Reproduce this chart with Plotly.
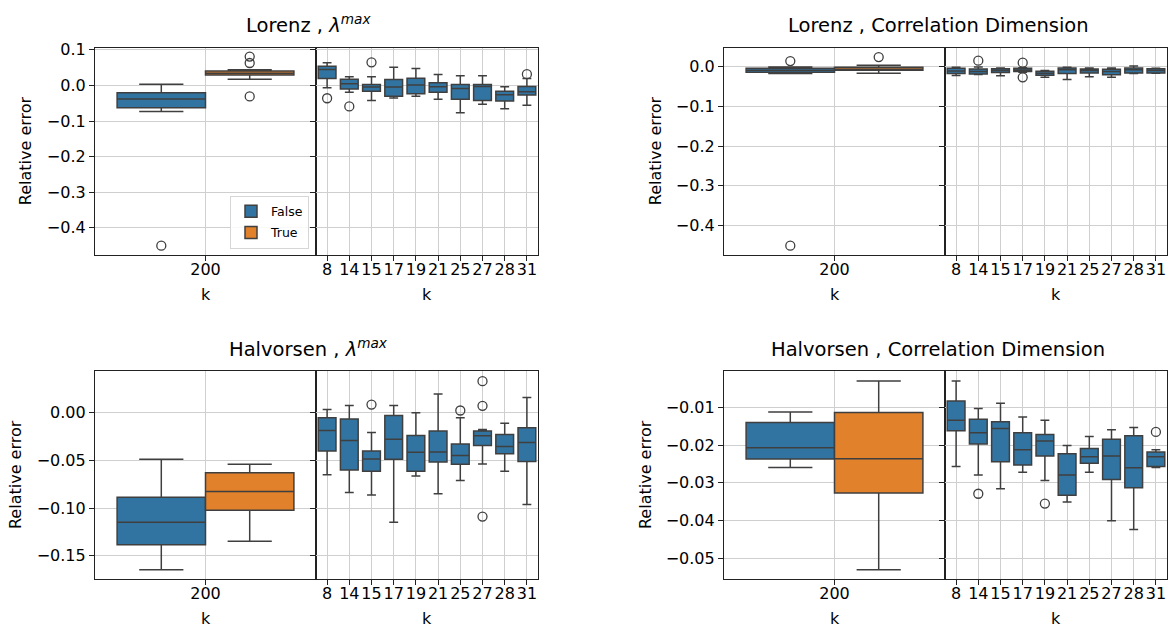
import plotly.graph_objects as go

# ---------------- data ----------------
K_BIG = ["200"]
HUES = ["False", "True"]
K_SMALL = ["8", "14", "15", "17", "19", "21", "25", "27", "28", "31"]

# stats order for k=200 boxes: [lower whisker, q1, median, q3, upper whisker]
# ---- Lorenz, lambda max
LZ_LAM_F200 = [-0.073, -0.063, -0.038, -0.0206, 0.003]
LZ_LAM_T200 = [0.017, 0.0295, 0.034, 0.0406, 0.044]
LZ_LAM_F200_OUT = [-0.450]
LZ_LAM_T200_OUT = [0.081, 0.063, -0.031]
LZ_LAM_LO = [-0.0065, -0.0194, -0.0426, -0.0352, -0.0306, -0.0389, -0.0769, -0.0528, -0.0657, -0.0556]
LZ_LAM_Q1 = [0.0194, -0.0102, -0.0167, -0.0306, -0.0231, -0.0194, -0.0389, -0.0426, -0.0435, -0.0269]
LZ_LAM_MED = [0.0444, 0.0046, -0.0046, -0.0046, 0.0009, -0.0037, -0.0083, -0.0028, -0.0259, -0.0176]
LZ_LAM_Q3 = [0.0537, 0.0176, 0.0028, 0.0167, 0.0204, 0.0074, 0.0028, 0.0028, -0.0167, -0.0028]
LZ_LAM_HI = [0.0639, 0.0241, 0.0241, 0.0509, 0.0472, 0.0306, 0.0269, 0.0269, -0.0037, 0.0194]
LZ_LAM_OUT_K = ["8", "14", "15", "31"]
LZ_LAM_OUT_V = [-0.036, -0.059, 0.065, 0.0315]

# ---- Lorenz, correlation dimension
LZ_CD_F200 = [-0.0174, -0.0141, -0.0091, -0.0041, -0.0008]
LZ_CD_T200 = [-0.0166, -0.0091, -0.0075, -0.0017, 0.0033]
LZ_CD_F200_OUT = [0.0141, -0.4506]
LZ_CD_T200_OUT = [0.0240]
LZ_CD_LO = [-0.0224, -0.0199, -0.0232, -0.0141, -0.0266, -0.0324, -0.0257, -0.0266, -0.0174, -0.0166]
LZ_CD_Q1 = [-0.0174, -0.0183, -0.0149, -0.0124, -0.0216, -0.0174, -0.0158, -0.0207, -0.0158, -0.0158]
LZ_CD_MED = [-0.0108, -0.0124, -0.0100, -0.0083, -0.0166, -0.0075, -0.0100, -0.0124, -0.0075, -0.0100]
LZ_CD_Q3 = [-0.0041, -0.0058, -0.0050, -0.0041, -0.0116, -0.0033, -0.0058, -0.0066, -0.0033, -0.0050]
LZ_CD_HI = [-0.0017, -0.0008, -0.0033, -0.0025, -0.0100, -0.0017, -0.0033, -0.0033, 0.0017, -0.0041]
LZ_CD_OUT_K = ["14", "17", "17"]
LZ_CD_OUT_V = [0.0150, 0.0100, -0.0270]

# ---- Halvorsen, lambda max
HV_LAM_F200 = [-0.1645, -0.1383, -0.1148, -0.0885, -0.0487]
HV_LAM_T200 = [-0.1348, -0.1023, -0.0826, -0.0629, -0.0539]
HV_LAM_F200_OUT = []
HV_LAM_T200_OUT = []
HV_LAM_LO = [-0.0650, -0.0837, -0.0861, -0.1148, -0.0664, -0.0850, -0.0709, -0.0536, -0.0612, -0.0961]
HV_LAM_Q1 = [-0.0401, -0.0601, -0.0612, -0.0487, -0.0612, -0.0515, -0.0539, -0.0342, -0.0429, -0.0512]
HV_LAM_MED = [-0.0187, -0.0290, -0.0484, -0.0277, -0.0415, -0.0411, -0.0449, -0.0242, -0.0353, -0.0311]
HV_LAM_Q3 = [-0.0052, -0.0066, -0.0401, -0.0028, -0.0239, -0.0190, -0.0328, -0.0190, -0.0228, -0.0156]
HV_LAM_HI = [0.0035, 0.0076, -0.0207, 0.0076, 0.0000, 0.0197, -0.0052, -0.0176, -0.0111, 0.0159]
HV_LAM_OUT_K = ["15", "25", "27", "27", "27"]
HV_LAM_OUT_V = [0.0086, 0.0024, 0.0332, 0.0073, -0.1089]

# ---- Halvorsen, correlation dimension
HV_CD_F200 = [-0.0259, -0.0237, -0.0207, -0.0140, -0.0112]
HV_CD_T200 = [-0.0531, -0.0327, -0.0236, -0.0113, -0.0030]
HV_CD_F200_OUT = []
HV_CD_T200_OUT = []
HV_CD_LO = [-0.0257, -0.0279, -0.0316, -0.0272, -0.0294, -0.0351, -0.0272, -0.0401, -0.0424, -0.0259]
HV_CD_Q1 = [-0.0162, -0.0197, -0.0244, -0.0253, -0.0229, -0.0333, -0.0248, -0.0291, -0.0313, -0.0257]
HV_CD_MED = [-0.0134, -0.0167, -0.0156, -0.0212, -0.0189, -0.0279, -0.0231, -0.0229, -0.0260, -0.0231]
HV_CD_Q3 = [-0.0083, -0.0131, -0.0138, -0.0167, -0.0172, -0.0223, -0.0209, -0.0184, -0.0175, -0.0218]
HV_CD_HI = [-0.0030, -0.0103, -0.0089, -0.0125, -0.0134, -0.0201, -0.0177, -0.0159, -0.0153, -0.0212]
HV_CD_OUT_K = ["14", "19", "31"]
HV_CD_OUT_V = [-0.0329, -0.0355, -0.0165]

TITLES = ["Lorenz , <i>λ</i><sup><i>max</i></sup>", "Lorenz , Correlation Dimension",
          "Halvorsen , <i>λ</i><sup><i>max</i></sup>", "Halvorsen , Correlation Dimension"]
Y_LABEL = "Relative error"
X_LABEL = "k"

# ---------------- styling ----------------
W, H = 1169, 630
FONT = "DejaVu Sans"
BLUE, ORANGE = "#3274a1", "#e1812c"
EDGE = "#3f3f3f"
GRID = "#cfcfcf"
SPINE = "#222222"

panels = [
    dict(f=LZ_LAM_F200, t=LZ_LAM_T200, fo=LZ_LAM_F200_OUT, to=LZ_LAM_T200_OUT,
         lo=LZ_LAM_LO, q1=LZ_LAM_Q1, med=LZ_LAM_MED, q3=LZ_LAM_Q3, hi=LZ_LAM_HI,
         ok=LZ_LAM_OUT_K, ov=LZ_LAM_OUT_V,
         yr=[-0.476, 0.1064], tv=[0.1, 0.0, -0.1, -0.2, -0.3, -0.4], fmt=".1f",
         col=0, row=0, ylx=25),
    dict(f=LZ_CD_F200, t=LZ_CD_T200, fo=LZ_CD_F200_OUT, to=LZ_CD_T200_OUT,
         lo=LZ_CD_LO, q1=LZ_CD_Q1, med=LZ_CD_MED, q3=LZ_CD_Q3, hi=LZ_CD_HI,
         ok=LZ_CD_OUT_K, ov=LZ_CD_OUT_V,
         yr=[-0.4739, 0.0481], tv=[0.0, -0.1, -0.2, -0.3, -0.4], fmt=".1f",
         col=1, row=0, ylx=655),
    dict(f=HV_LAM_F200, t=HV_LAM_T200, fo=HV_LAM_F200_OUT, to=HV_LAM_T200_OUT,
         lo=HV_LAM_LO, q1=HV_LAM_Q1, med=HV_LAM_MED, q3=HV_LAM_Q3, hi=HV_LAM_HI,
         ok=HV_LAM_OUT_K, ov=HV_LAM_OUT_V,
         yr=[-0.1742, 0.0436], tv=[0.0, -0.05, -0.10, -0.15], fmt=".2f",
         col=0, row=1, ylx=15),
    dict(f=HV_CD_F200, t=HV_CD_T200, fo=HV_CD_F200_OUT, to=HV_CD_T200_OUT,
         lo=HV_CD_LO, q1=HV_CD_Q1, med=HV_CD_MED, q3=HV_CD_Q3, hi=HV_CD_HI,
         ok=HV_CD_OUT_K, ov=HV_CD_OUT_V,
         yr=[-0.0555, -0.00037], tv=[-0.01, -0.02, -0.03, -0.04, -0.05], fmt=".2f",
         col=1, row=1, ylx=645),
]

COLS = [[(95, 316), (316, 538)], [(724, 945), (945, 1167)]]
ROWS = [(41, 250.7), (368.3, 578.3)]
TITLE_X = [308, 938]
TITLE_BOTTOM = [32, 360]

fig = go.Figure()
layout = dict(
    width=W, height=H, autosize=False,
    margin=dict(l=0, r=0, t=0, b=0),
    paper_bgcolor="white", plot_bgcolor="white",
    font=dict(family=FONT, size=16, color="black"),
    boxmode="overlay",
    showlegend=True,
    legend=dict(x=309 / W, xanchor="right", y=1 - 244.3 / H, yanchor="bottom",
                bgcolor="rgba(255,255,255,0.85)", bordercolor="#d6d6d6", borderwidth=1,
                font=dict(size=12.5, family=FONT), tracegroupgap=2,
                itemwidth=30),
)
annotations = []


def xdom(a, b):
    return [a / W, b / W]


def ydom(top, bottom):
    return [1 - bottom / H, 1 - top / H]


def box_line():
    return dict(color=EDGE, width=1.5)


for p, P in enumerate(panels):
    top, bottom = ROWS[P["row"]]
    (l0, l1), (r0, r1) = COLS[P["col"]]
    il, ir = 2 * p + 1, 2 * p + 2
    xl, yl = ("x" if il == 1 else f"x{il}"), ("y" if il == 1 else f"y{il}")
    xr, yr_ = f"x{ir}", f"y{ir}"

    # left subplot: k = 200, hue False/True
    for h, (stats, outs, color) in enumerate([(P["f"], P["fo"], BLUE), (P["t"], P["to"], ORANGE)]):
        pos = (h - 0.5) * 0.4
        fig.add_trace(go.Box(
            x=[pos], orientation="v",
            lowerfence=[stats[0]], q1=[stats[1]], median=[stats[2]], q3=[stats[3]],
            upperfence=[stats[4]], width=0.4, whiskerwidth=0.5,
            fillcolor=color, line=box_line(), boxpoints=False,
            name=HUES[h], showlegend=(p == 0), legendgroup=HUES[h],
            xaxis=xl, yaxis=yl, hoverinfo="skip"))
        if outs:
            fig.add_trace(go.Scatter(
                x=[pos] * len(outs), y=outs, mode="markers", showlegend=False,
                marker=dict(symbol="circle-open", size=9, color=EDGE, line=dict(width=1.3)),
                xaxis=xl, yaxis=yl, hoverinfo="skip"))

    # right subplot: small k values
    fig.add_trace(go.Box(
        x=K_SMALL, orientation="v",
        lowerfence=P["lo"], q1=P["q1"], median=P["med"], q3=P["q3"], upperfence=P["hi"],
        width=0.8, whiskerwidth=0.5, fillcolor=BLUE, line=box_line(), boxpoints=False,
        showlegend=False, xaxis=xr, yaxis=yr_, hoverinfo="skip"))
    fig.add_trace(go.Scatter(
        x=P["ok"], y=P["ov"], mode="markers", showlegend=False,
        marker=dict(symbol="circle-open", size=9, color=EDGE, line=dict(width=1.3)),
        xaxis=xr, yaxis=yr_, hoverinfo="skip"))

    common = dict(showline=True, linecolor=SPINE, linewidth=1.2, mirror=True,
                  ticks="outside", ticklen=5, tickwidth=1.1, tickcolor=SPINE,
                  showgrid=True, gridcolor=GRID, gridwidth=1, zeroline=False,
                  tickfont=dict(size=16, family=FONT, color="black"))
    kl = "xaxis" if il == 1 else f"xaxis{il}"
    layout[kl] = dict(common, domain=xdom(l0, l1), anchor=yl, range=[-0.5, 0.5],
                      tickmode="array", tickvals=[0], ticktext=K_BIG,
                      tickangle=0, ticklabelstandoff=-5)
    layout[f"xaxis{ir}"] = dict(common, domain=xdom(r0, r1), anchor=yr_, type="category",
                                categoryorder="array", categoryarray=K_SMALL,
                                range=[-0.5, len(K_SMALL) - 0.5],
                                tickangle=0, ticklabelstandoff=-5)
    kyl = "yaxis" if il == 1 else f"yaxis{il}"
    layout[kyl] = dict(common, domain=ydom(top, bottom), anchor=xl, range=P["yr"],
                       tickmode="array", tickvals=P["tv"], tickformat=P["fmt"])
    layout[f"yaxis{ir}"] = dict(common, domain=ydom(top, bottom), anchor=xr, range=P["yr"],
                                tickmode="array", tickvals=P["tv"], showticklabels=False)

    # texts
    annotations.append(dict(text=TITLES[p], x=TITLE_X[P["col"]] / W,
                            y=1 - TITLE_BOTTOM[P["row"]] / H,
                            xref="paper", yref="paper", xanchor="center", yanchor="bottom",
                            showarrow=False, font=dict(size=19.5, family=FONT, color="black")))
    annotations.append(dict(text=Y_LABEL, x=P["ylx"] / W, y=1 - (top + bottom) / 2 / H,
                            xref="paper", yref="paper", xanchor="center", yanchor="middle",
                            textangle=-90, showarrow=False,
                            font=dict(size=16, family=FONT, color="black")))
    for a, b in [(l0, l1), (r0, r1)]:
        annotations.append(dict(text=X_LABEL, x=(a + b) / 2 / W, y=1 - (bottom + 40) / H,
                                xref="paper", yref="paper", xanchor="center", yanchor="middle",
                                showarrow=False, font=dict(size=16, family=FONT, color="black")))

layout["annotations"] = annotations
fig.update_layout(**layout)
fig.write_html("out.html")
